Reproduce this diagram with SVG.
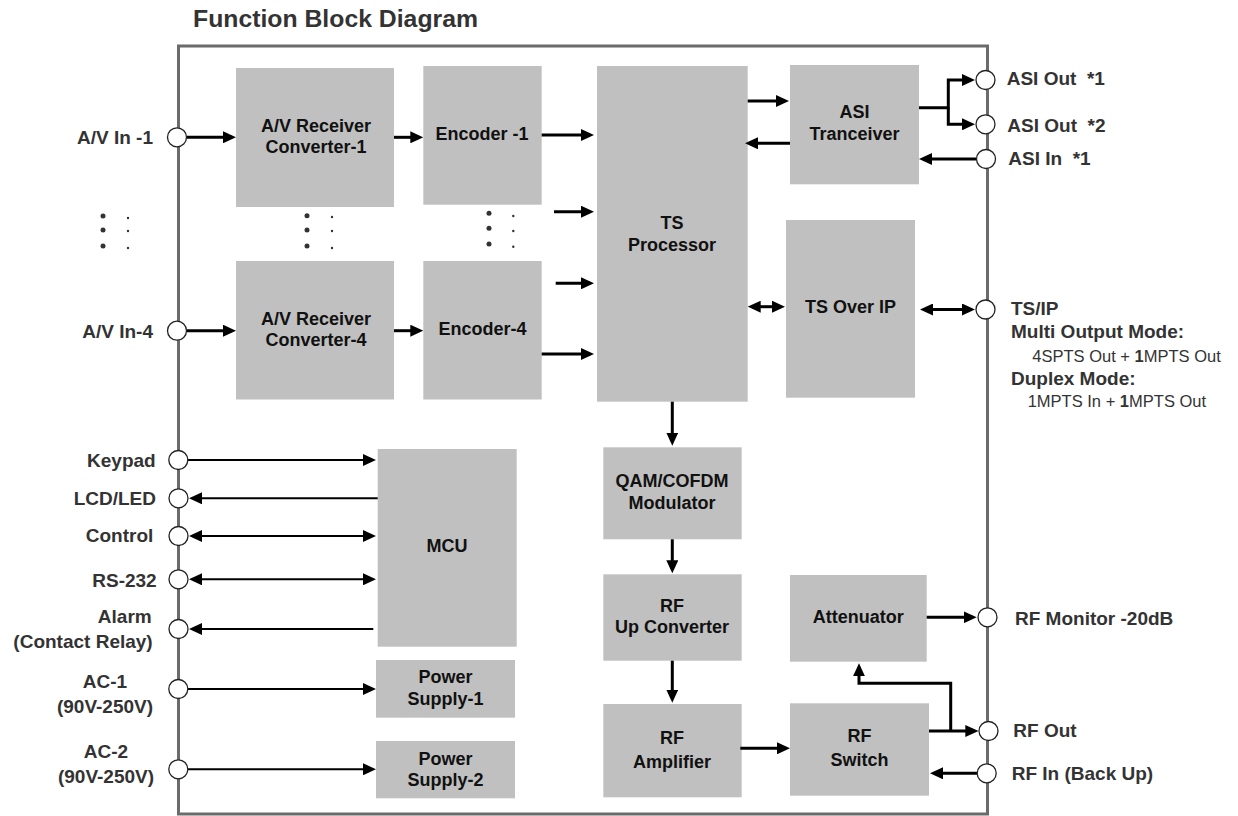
<svg xmlns="http://www.w3.org/2000/svg" width="1238" height="816" viewBox="0 0 1238 816">
<style>
.box{fill:#c0c0c0}
.bt{font-family:"Liberation Sans",Arial,sans-serif;font-weight:bold;font-size:18px;fill:#111;text-anchor:middle}
.lb{font-family:"Liberation Sans",Arial,sans-serif;font-weight:bold;font-size:19px;fill:#333}
.sm{font-family:"Liberation Sans",Arial,sans-serif;font-size:16.5px;fill:#333}
.c3{fill:none;stroke:#000;stroke-width:3;marker-end:url(#ah)}
.c2{fill:none;stroke:#000;stroke-width:2;marker-end:url(#ah)}
.both{marker-start:url(#ah)}
.port{fill:#fff;stroke:#222;stroke-width:1.3}
.dot{fill:#333}
</style>
<defs>
<marker id="ah" viewBox="0 0 13 12" refX="9" refY="6" markerWidth="13" markerHeight="12" markerUnits="userSpaceOnUse" orient="auto-start-reverse">
<path d="M0,0 L13,6 L0,12 z" fill="#000"/>
</marker>
</defs>
<rect width="1238" height="816" fill="#fff"/>
<text x="193" y="27" class="lb" style="font-size:24px" textLength="285" lengthAdjust="spacingAndGlyphs">Function Block Diagram</text>
<rect id="frame" x="178.5" y="46" width="809" height="768" fill="none" stroke="#6b6b6b" stroke-width="3"/>

<g id="avr1"><rect class="box" x="236" y="68" width="158" height="139"/><text class="bt" x="316" y="131.7">A/V Receiver</text><text class="bt" x="316" y="153">Converter-1</text></g>
<g id="avr4"><rect class="box" x="236" y="261" width="158" height="138.5"/><text class="bt" x="316" y="325">A/V Receiver</text><text class="bt" x="316" y="346">Converter-4</text></g>
<g id="enc1"><rect class="box" x="423.3" y="66" width="118.4" height="138.7"/><text class="bt" x="482" y="140">Encoder -1</text></g>
<g id="enc4"><rect class="box" x="423.3" y="261" width="118.4" height="138.5"/><text class="bt" x="482.5" y="335">Encoder-4</text></g>
<g id="tsproc"><rect class="box" x="597" y="66" width="150.7" height="335.7"/><text class="bt" x="672" y="229.3">TS</text><text class="bt" x="672" y="250.7">Processor</text></g>
<g id="asi"><rect class="box" x="790" y="65" width="129" height="119.3"/><text class="bt" x="854.5" y="118.3">ASI</text><text class="bt" x="854.5" y="140">Tranceiver</text></g>
<g id="tsoip"><rect class="box" x="786" y="220" width="129" height="177.7"/><text class="bt" x="850.5" y="313.3">TS Over IP</text></g>
<g id="mcu"><rect class="box" x="377.7" y="449" width="139" height="197.7"/><text class="bt" x="447" y="552.3">MCU</text></g>
<g id="ps1"><rect class="box" x="376" y="660" width="139" height="57.7"/><text class="bt" x="445.5" y="683.3">Power</text><text class="bt" x="445.5" y="705">Supply-1</text></g>
<g id="ps2"><rect class="box" x="376" y="741" width="139" height="57.3"/><text class="bt" x="445.5" y="765">Power</text><text class="bt" x="445.5" y="785.7">Supply-2</text></g>
<g id="qam"><rect class="box" x="603.3" y="447.3" width="138.4" height="92"/><text class="bt" x="672" y="486.7">QAM/COFDM</text><text class="bt" x="672" y="509">Modulator</text></g>
<g id="rfup"><rect class="box" x="603.3" y="574.3" width="138.4" height="86.4"/><text class="bt" x="672" y="612.3">RF</text><text class="bt" x="672" y="633.3">Up Converter</text></g>
<g id="rfamp"><rect class="box" x="603.3" y="704" width="138.4" height="93.3"/><text class="bt" x="672" y="744.3">RF</text><text class="bt" x="672" y="767.7">Amplifier</text></g>
<g id="atten"><rect class="box" x="790" y="575" width="136.7" height="86.7"/><text class="bt" x="858.3" y="623.3">Attenuator</text></g>
<g id="rfsw"><rect class="box" x="790" y="703.3" width="139" height="92.4"/><text class="bt" x="859.5" y="742.3">RF</text><text class="bt" x="859.5" y="765.7">Switch</text></g>

<g id="dots">
<circle class="dot" cx="103" cy="216" r="2.5"/><circle class="dot" cx="103" cy="230" r="2.5"/><circle class="dot" cx="103" cy="246" r="2.5"/>
<circle class="dot" cx="128" cy="218" r="1.2"/><circle class="dot" cx="128" cy="231" r="1.2"/><circle class="dot" cx="128" cy="248" r="1.2"/>
<circle class="dot" cx="307" cy="215.7" r="2.5"/><circle class="dot" cx="307" cy="230" r="2.5"/><circle class="dot" cx="307" cy="246" r="2.5"/>
<circle class="dot" cx="332" cy="217" r="1.2"/><circle class="dot" cx="332" cy="231" r="1.2"/><circle class="dot" cx="332" cy="248" r="1.2"/>
<circle class="dot" cx="489" cy="213.3" r="2.5"/><circle class="dot" cx="489" cy="228.3" r="2.5"/><circle class="dot" cx="489" cy="244" r="2.5"/>
<circle class="dot" cx="513.3" cy="216" r="1.2"/><circle class="dot" cx="513.3" cy="231" r="1.2"/><circle class="dot" cx="513.3" cy="246.7" r="1.2"/>
</g>

<g id="connectors">
<path class="c3" d="M187,137.3 H232"/>
<path class="c3" d="M187,330.7 H232"/>
<path class="c3" d="M394,137.3 H419.3"/>
<path class="c3" d="M394,330.7 H419.3"/>
<path class="c3" d="M541.7,135 H590"/>
<path class="c3" d="M554,211.7 H590"/>
<path class="c3" d="M555.7,283.3 H590"/>
<path class="c3" d="M541.7,354 H590"/>
<path class="c3" d="M747.7,101 H785"/>
<path class="c3" d="M790,143.3 H749"/>
<path class="c3" d="M976,159 H923"/>
<path class="c3" d="M919,107.7 H948.3 V80 H971"/>
<path class="c3" d="M948.3,107.7 V124.3 H971"/>
<path class="c3 both" d="M751.7,306.7 H781"/>
<path class="c3 both" d="M924,309.5 H971"/>
<path class="c3" d="M672.3,401.7 V441.7"/>
<path class="c3" d="M672.3,539.3 V569.3"/>
<path class="c3" d="M672.3,660.7 V698.7"/>
<path class="c3" d="M740.3,748.3 H786"/>
<path class="c3" d="M926.7,617.3 H972.7"/>
<path class="c3" d="M929,731 H974.3"/>
<path class="c3" d="M950.7,731 V683.3 H859 V667.3"/>
<path class="c3" d="M977,773.3 H934"/>
<path class="c2" d="M188,460 H372"/>
<path class="c2" d="M377.7,498.3 H193"/>
<path class="c2 both" d="M193,536 H372"/>
<path class="c2 both" d="M193,579.3 H372"/>
<path class="c2" d="M373.3,629 H193"/>
<path class="c2" d="M188,689 H372"/>
<path class="c2" d="M188,769.3 H372"/>
</g>

<g id="ports">
<g id="p-av1"><circle class="port" cx="177" cy="137.3" r="9.5"/><text class="lb" x="153" y="144" text-anchor="end">A/V In -1</text></g>
<g id="p-av4"><circle class="port" cx="177" cy="330.7" r="9.5"/><text class="lb" x="153" y="338" text-anchor="end">A/V In-4</text></g>
<g id="p-key"><circle class="port" cx="178.3" cy="460" r="9.5"/><text class="lb" x="155.7" y="466.7" text-anchor="end">Keypad</text></g>
<g id="p-lcd"><circle class="port" cx="178.5" cy="498.3" r="9.5"/><text class="lb" x="156" y="505" text-anchor="end">LCD/LED</text></g>
<g id="p-ctl"><circle class="port" cx="178.5" cy="536" r="9.5"/><text class="lb" x="153.3" y="541.7" text-anchor="end">Control</text></g>
<g id="p-rs"><circle class="port" cx="178.5" cy="579.3" r="9.5"/><text class="lb" x="156.7" y="586.7" text-anchor="end">RS-232</text></g>
<g id="p-alarm"><circle class="port" cx="178.5" cy="629" r="9.5"/><text class="lb" x="151.7" y="623.3" text-anchor="end">Alarm</text><text class="lb" x="152.7" y="647.7" text-anchor="end">(Contact Relay)</text></g>
<g id="p-ac1"><circle class="port" cx="178.3" cy="689" r="9.5"/><text class="lb" x="105" y="687.7" text-anchor="middle">AC-1</text><text class="lb" x="105" y="713.3" text-anchor="middle">(90V-250V)</text></g>
<g id="p-ac2"><circle class="port" cx="178.3" cy="769.3" r="9.5"/><text class="lb" x="106" y="758.3" text-anchor="middle">AC-2</text><text class="lb" x="106" y="783.3" text-anchor="middle">(90V-250V)</text></g>
<g id="p-asio1"><circle class="port" cx="985.5" cy="80" r="9.5"/><text class="lb" x="1006.7" y="85" xml:space="preserve">ASI Out  *1</text></g>
<g id="p-asio2"><circle class="port" cx="985.5" cy="124.3" r="9.5"/><text class="lb" x="1007.3" y="131.7" xml:space="preserve">ASI Out  *2</text></g>
<g id="p-asii"><circle class="port" cx="986" cy="159" r="9.5"/><text class="lb" x="1008.3" y="165" xml:space="preserve">ASI In  *1</text></g>
<g id="p-tsip"><circle class="port" cx="985.5" cy="309.5" r="9.5"/>
<text class="lb" x="1011" y="315">TS/IP</text>
<text class="lb" x="1011" y="338.3">Multi Output Mode:</text>
<text class="sm" x="1032.3" y="361.7">4SPTS Out + <tspan font-weight="bold">1</tspan>MPTS Out</text>
<text class="lb" x="1011" y="385">Duplex Mode:</text>
<text class="sm" x="1027.7" y="407.3">1MPTS In + <tspan font-weight="bold">1</tspan>MPTS Out</text>
</g>
<g id="p-rfmon"><circle class="port" cx="987.5" cy="617.3" r="9.5"/><text class="lb" x="1015" y="625">RF Monitor -20dB</text></g>
<g id="p-rfout"><circle class="port" cx="988.5" cy="731" r="9.5"/><text class="lb" x="1013.3" y="736.7">RF Out</text></g>
<g id="p-rfin"><circle class="port" cx="986.7" cy="773.3" r="9.5"/><text class="lb" x="1011.7" y="780">RF In (Back Up)</text></g>
</g>
</svg>
